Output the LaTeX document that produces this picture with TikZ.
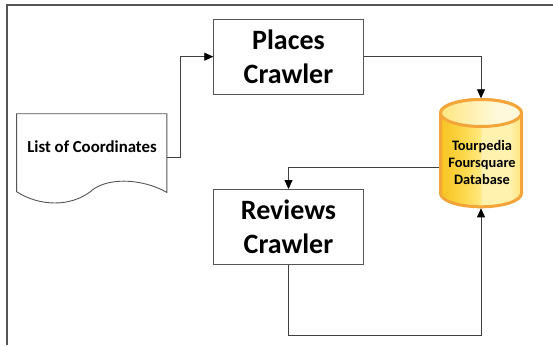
\documentclass[tikz,border=0pt]{standalone}
\usepackage{fontspec}
\setmainfont{Carlito}
\usetikzlibrary{arrows.meta}

\definecolor{framegray}{HTML}{555555}
\definecolor{boxgray}{HTML}{555555}
\definecolor{conngray}{HTML}{404040}
\definecolor{dborange}{HTML}{F3A53A}
\definecolor{goldA}{HTML}{F7C320}
\definecolor{goldB}{HTML}{FCD94E}
\definecolor{goldC}{HTML}{FFE880}
\definecolor{goldD}{HTML}{FFF1AE}
\definecolor{goldE}{HTML}{FFE47A}
\definecolor{capA}{HTML}{FFE680}
\definecolor{capB}{HTML}{FFF9DC}

% body of the database cylinder: dark gold on the left, pale on the right
\pgfdeclarehorizontalshading{dbbody}{100bp}{%
  color(0bp)=(goldA); color(25bp)=(goldA); color(40bp)=(goldB);
  color(49.5bp)=(goldC); color(50.5bp)=(goldD); color(68bp)=(goldD);
  color(75bp)=(goldE); color(100bp)=(goldE)}
% lid of the cylinder
\pgfdeclarehorizontalshading{dbtop}{100bp}{%
  color(0bp)=(capA); color(25bp)=(capA); color(60bp)=(capB);
  color(75bp)=(capB); color(100bp)=(capB)}

\tikzset{
  crawler/.style={draw=boxgray, line width=0.9pt, fill=white,
    minimum width=149.5pt, minimum height=74.7pt, align=center,
    inner sep=0pt, font=\bfseries\fontsize{28}{34}\selectfont},
  conn/.style={draw=conngray, line width=0.8pt,
    -{Triangle[length=9pt,width=8pt,color=black]}},
  anchorbox/.style={inner sep=0pt, outer sep=0pt},
}

\begin{document}
\begin{tikzpicture}[x=1pt, y=-1pt]
\useasboundingbox (0,0) rectangle (553,345);

% outer frame (only the left and top edges fall on the page)
\draw[framegray, line width=2pt] (6.5,345) -- (6.5,5) -- (553,5);

% input document with a wavy lower edge
\node[anchorbox, minimum width=150.2pt, minimum height=78.6pt] (doc) at (91.7,153) {};
\draw[boxgray, line width=0.9pt, fill=white]
  (16.6,113.7) -- (166.8,113.7) -- (166.8,192.3)
  .. controls (140,177.5) and (105,177.5) .. (90,192)
  .. controls (70,206.7) and (40,206.7) .. (16.6,191.7) -- cycle;
\node[font=\bfseries\fontsize{16.8}{20}\selectfont] (doclabel) at (92,147) {List of Coordinates};

% crawlers
\node[crawler] (places) at (288.5,56.7) {Places\\Crawler};
\node[crawler] (reviews) at (288.5,226.8) {Reviews\\Crawler};

% database cylinder
\node[anchorbox, minimum width=84pt, minimum height=110pt] (db) at (481,153.3) {};
\shadedraw[shading=dbbody, draw=dborange, line width=3pt]
  (440.5,113) -- (440.5,193.3)
  arc[start angle=180, end angle=0, x radius=40.5, y radius=13.5]
  -- (521.5,113)
  arc[start angle=0, end angle=-180, x radius=40.5, y radius=13.5] -- cycle;
\shadedraw[shading=dbtop, draw=dborange, line width=3pt]
  (481,113) ellipse [x radius=40.5, y radius=13.5];
\node[align=center, font=\bfseries\fontsize{14.4}{17.4}\selectfont] (dblabel) at (482,162.5)
  {Tourpedia\\Foursquare\\Database};

% connectors
\draw[conn] ([yshift=-4.3pt]doc.east) -- ++(13.2,0) |- (places.west);
\draw[conn] (places.east) -| (db.north);
\draw[conn] ([yshift=-14.2pt]db.west) -| (reviews.north);
\draw[conn] (reviews.south) -- ++(0,71) -| (db.south);
\end{tikzpicture}
\end{document}
